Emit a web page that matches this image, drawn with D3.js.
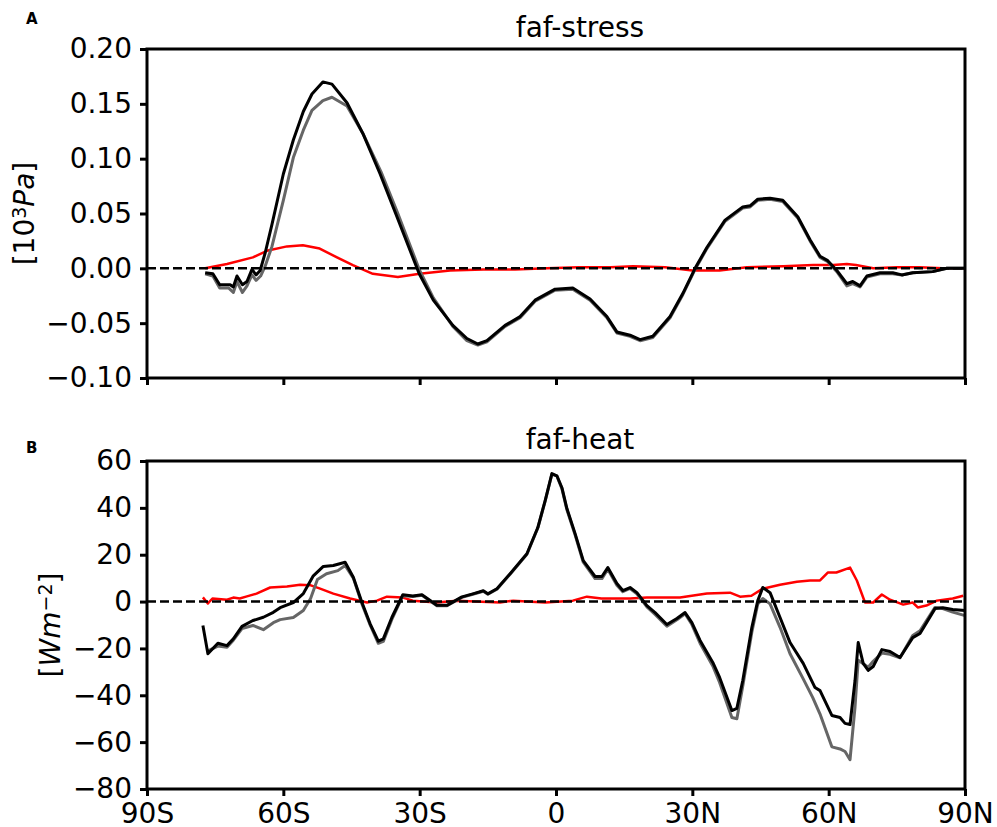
<!DOCTYPE html>
<html>
<head>
<meta charset="utf-8">
<script src="https://cdn.jsdelivr.net/npm/d3@7"></script>
<style>
  body { margin: 0; background: #fff; }
  svg { font-family: "DejaVu Sans", sans-serif; }
</style>
</head>
<body>
<svg id="chart" width="997" height="827"></svg>
<script>
var latTicks = [-90, -60, -30, 0, 30, 60, 90];
var latLabels = ["90S", "60S", "30S", "0", "30N", "60N", "90N"];
var stressTicks = [-0.10, -0.05, 0.00, 0.05, 0.10, 0.15, 0.20];
var heatTicks = [-80, -60, -40, -20, 0, 20, 40, 60];

// faf-stress
var stressBlackLat = [-77.2,-75.5,-74,-71.7,-71,-70.2,-69,-68,-66.9,-66,-65.1,-64,-62.5,-60,-57.8,-55.6,-53.7,-51.3,-49.3,-46,-42.5,-38.7,-35,-30.1,-27,-22.7,-19.6,-17.2,-15.2,-11.2,-7.9,-4.6,-0.2,3.7,7.5,11.2,13.4,16.3,18.5,21.3,25.1,27.9,30.6,33.2,37.2,41.1,42.7,44.4,47.1,49.9,53.2,55.9,58.1,59.8,61.8,64,65.3,66.9,68.4,71.3,74.1,76.1,78.5,82.9,86,90];
var stressBlack = [-0.004,-0.005,-0.015,-0.015,-0.017,-0.007,-0.015,-0.012,-0.001,-0.006,-0.002,0.014,0.040,0.086,0.117,0.143,0.159,0.170,0.168,0.151,0.123,0.086,0.047,-0.005,-0.029,-0.052,-0.064,-0.069,-0.066,-0.052,-0.044,-0.029,-0.019,-0.018,-0.028,-0.044,-0.058,-0.061,-0.065,-0.062,-0.044,-0.023,0.000,0.019,0.044,0.056,0.057,0.063,0.064,0.062,0.047,0.026,0.011,0.007,-0.002,-0.014,-0.012,-0.016,-0.007,-0.004,-0.004,-0.006,-0.004,-0.003,0,0];
var stressGreyLat = [-77.2,-75.5,-74,-72,-71,-70.2,-69,-68,-66.9,-66,-65,-64,-62.5,-60,-57.8,-55.6,-53.7,-51.3,-49.3,-46,-42.5,-38.5,-34.8,-30,-27,-22.7,-19.6,-17.2,-15.2,-11.2,-7.9,-4.6,-0.2,3.7,7.5,11.2,13.4,16.3,18.5,21.3,25.1,27.9,30.6,33.2,37.2,41.1,42.7,44.4,47.1,49.9,53.2,55.9,58.1,59.8,61.8,64,65.3,66.9,68.4,71.3,74.1,76.1,78.5,82.9,86,90];
var stressGrey = [-0.005,-0.007,-0.018,-0.018,-0.022,-0.012,-0.022,-0.016,-0.006,-0.011,-0.007,0.002,0.020,0.062,0.101,0.126,0.144,0.153,0.156,0.148,0.123,0.088,0.050,-0.002,-0.027,-0.053,-0.066,-0.070,-0.067,-0.053,-0.045,-0.030,-0.020,-0.019,-0.029,-0.045,-0.059,-0.062,-0.066,-0.063,-0.045,-0.024,-0.001,0.018,0.043,0.055,0.056,0.062,0.063,0.061,0.046,0.025,0.010,0.006,-0.003,-0.016,-0.014,-0.017,-0.008,-0.005,-0.005,-0.006,-0.004,-0.003,0,0];
var stressRedLat = [-77.2,-72.4,-66.7,-63.6,-59.2,-55.7,-52,-48.2,-44.7,-40.3,-34.8,-30,-23.3,-16,-9,-2,5,12,17,24,30,36,42,50,56.6,61,64,66,69.8,75,80,85,90];
var stressRed = [0,0.004,0.010,0.016,0.020,0.021,0.018,0.010,0.003,-0.005,-0.008,-0.005,-0.002,-0.001,-0.001,0.000,0.001,0.001,0.002,0.001,-0.002,-0.002,0.001,0.002,0.003,0.003,0.004,0.003,0,0.001,0.001,0,0];

// faf-heat
var heatBlackLat = [-77.7,-76.6,-74.4,-72.4,-71,-69.1,-66.7,-64.4,-62.2,-60.7,-57.8,-55.6,-53.4,-51.2,-49,-46.4,-44.6,-42.7,-40.9,-39.1,-38,-36.1,-33.7,-31.5,-29.5,-26.2,-24,-20.7,-18.3,-16,-15,-13,-10.1,-6.4,-4,-2.4,-0.9,0.2,1.3,2.4,4.2,6,8.6,10.1,11.4,13.4,14.7,16.3,17.8,20,21.8,24.4,26.6,28.4,29.9,31.7,34.5,36,38.7,39.8,41.1,43.1,44.4,45.5,47.1,49.3,51.5,54.4,57,58.1,60.7,62.5,63.6,64.7,65.8,66.5,67.6,68.7,69.8,71.7,73.5,75.7,78.5,80.1,83.4,85.1,87.3,90];
var heatBlack = [-10.2,-22.3,-17.8,-18.8,-15.9,-10.6,-8.1,-6.7,-4.6,-2.6,-0.4,3.4,11,15,15.4,16.8,10.4,-0.4,-9.5,-16.9,-15.9,-6.7,2.9,2.4,2.9,-1.6,-1.6,2.0,3.3,4.6,3.3,5.5,11.9,20.4,31.6,43,54.6,53.7,48.6,39.7,29,17.5,10.7,10.7,14.5,7.7,4.7,6.0,3.8,-1.7,-4.7,-9.8,-7.2,-4.7,-9,-16.6,-26,-32.4,-46.5,-45.6,-33.7,-11,0.4,6.0,3.8,-6.8,-17.5,-26.4,-36.7,-38,-48.6,-49.5,-52,-52.5,-33.7,-17.5,-26.4,-29.4,-27.7,-20.5,-21.3,-23.9,-15.4,-13.6,-3,-2.6,-3.4,-3.8];
var heatGreyLat = [-76.6,-74.4,-72.4,-71,-69.1,-66.7,-64.4,-62.2,-60.7,-57.8,-55.6,-54,-52.5,-50.5,-48,-46.4,-44.6,-42.7,-40.9,-39.1,-38,-36.1,-33.7,-31.5,-29.5,-26.2,-24,-20.7,-18.3,-16,-15,-13,-10.1,-6.4,-4,-2.4,-0.9,0.2,1.3,2.4,4.2,6,8.6,10.1,11.4,13.4,14.7,16.3,17.8,20,21.8,24.4,26.6,28.4,29.9,31.7,34.5,36,38.7,39.8,41.1,43.1,44.4,45.5,47.1,49.3,51.5,54.4,56.5,58.1,60.7,62.5,63.6,64.7,65.8,66.5,67.6,68.7,69.8,71.7,73.5,75.7,78.5,80.1,83.4,85.1,87.3,90];
var heatGrey = [-21,-19,-19.5,-16.5,-11.5,-10.2,-12,-9,-7.7,-6.8,-3.8,1.3,9.4,11.9,13.2,15.4,10,-1,-10,-17.8,-17,-7.5,2.5,2.2,2.7,-1.8,-1.8,1.8,3.1,4.4,3.1,5.3,11.7,20.2,31.4,42.8,54.4,53.5,48.2,39.2,28.5,16.8,9.8,9.8,13.8,7,4.2,5.6,3.3,-2.3,-5.5,-10.5,-7.8,-5.2,-9.8,-17.8,-27.5,-34.5,-49.5,-50,-36,-13,-1,1.3,-1,-11,-22.3,-33,-41,-48,-62,-62.9,-64,-67.5,-45,-25,-26.5,-28,-25.5,-22,-22.5,-24,-14.5,-12.5,-2.5,-3,-4.5,-6];
var heatRedLat = [-77.7,-76.6,-75.6,-72.4,-71,-69.6,-68.2,-65.9,-62.9,-59.2,-56.3,-54.1,-51.9,-49,-45.3,-41.6,-39.4,-37.2,-33.7,-31.5,-26.3,-21.8,-12.3,-9.4,-2.4,3.7,6.8,10,16.3,20,27.3,33.2,38.3,40.5,43,45.5,49.3,53,55.9,58.1,59.8,61.7,64.7,66.2,68,69.8,71.7,73.5,76.4,78.5,79.6,81.5,83.8,87.3,89.6];
var heatRed = [1.8,-0.8,1.3,0.8,1.7,1.3,2.1,3.4,6,6.4,7.2,7.0,5.5,3.4,1.3,-0.4,0.4,2.1,1.7,0.4,-0.4,0.4,-0.4,0.4,-0.4,0.4,2.1,1.3,1.3,1.7,1.7,3.4,3.8,2.1,2.5,5.5,7.2,8.5,9,9,12.4,12.4,14.5,9,-0.4,-0.4,3,0.8,-1.3,-0.4,-2.5,-1.7,0.4,1.3,2.5];

var svg = d3.select("#chart");
var left = 147, right = 965;
var x = d3.scaleLinear().domain([-90, 90]).range([left, right]);

function zip(lat, val) {
  return lat.map(function(d, i) { return [d, val[i]]; });
}

function drawPanel(p) {
  var y = d3.scaleLinear().domain(p.domain).range([p.bottom, p.top]);
  var g = svg.append("g");
  var line = d3.line()
    .x(function(d) { return x(d[0]); })
    .y(function(d) { return y(d[1]); });

  var series = [
    { data: zip(p.redLat, p.red), color: "#ff0000", width: 2.5 },
    { data: zip(p.greyLat, p.grey), color: "#666666", width: 3 },
    { data: zip(p.blackLat, p.black), color: "#000000", width: 3 }
  ];
  g.selectAll("path.series")
    .data(series)
    .enter()
    .append("path")
    .attr("class", "series")
    .attr("d", function(d) { return line(d.data); })
    .attr("fill", "none")
    .attr("stroke", function(d) { return d.color; })
    .attr("stroke-width", function(d) { return d.width; })
    .attr("stroke-linejoin", "round");

  g.append("line")
    .attr("x1", left).attr("x2", right)
    .attr("y1", y(0)).attr("y2", y(0))
    .attr("stroke", "#000")
    .attr("stroke-width", 2.5)
    .attr("stroke-dasharray", "9,4");

  var yAxis = g.append("g")
    .attr("transform", "translate(" + left + ",0)")
    .call(d3.axisLeft(y).tickValues(p.ticks).tickFormat(p.format).tickSize(7).tickSizeOuter(0).tickPadding(8));
  var xAxis = g.append("g")
    .attr("transform", "translate(0," + p.bottom + ")")
    .call(d3.axisBottom(x).tickValues(latTicks)
      .tickFormat(function(d, i) { return p.xlabels ? latLabels[i] : ""; })
      .tickSize(7).tickSizeOuter(0).tickPadding(7));
  [yAxis, xAxis].forEach(function(a) {
    a.select(".domain").remove();
    a.selectAll(".tick line").attr("stroke", "#000").attr("stroke-width", 3);
    a.selectAll(".tick text")
      .attr("fill", "#000")
      .style("font-family", "DejaVu Sans")
      .style("font-size", "28px");
  });

  g.append("rect")
    .attr("x", left).attr("y", p.top)
    .attr("width", right - left).attr("height", p.bottom - p.top)
    .attr("fill", "none")
    .attr("stroke", "#000")
    .attr("stroke-width", 3);

  g.append("text")
    .text(p.title)
    .attr("x", 580).attr("y", p.titleY)
    .attr("text-anchor", "middle")
    .style("font-size", "28px");

  g.append("text")
    .text(p.letter)
    .attr("x", 26).attr("y", p.letterY)
    .style("font-size", "15px")
    .style("font-weight", "bold");

  var lab = g.append("text")
    .attr("transform", "translate(" + p.labelX + "," + ((p.top + p.bottom) / 2) + ") rotate(-90)")
    .attr("text-anchor", "middle")
    .style("font-size", "28px");
  p.label.forEach(function(s) {
    var t = lab.append("tspan").text(s.t);
    if (s.italic) t.style("font-style", "italic");
    if (s.sup) t.attr("dy", "-0.42em").style("font-size", "19px");
    if (s.down) t.attr("dy", "0.29em");
  });
}

drawPanel({
  top: 49, bottom: 378, domain: [-0.10, 0.20], ticks: stressTicks, format: d3.format(".2f"),
  blackLat: stressBlackLat, black: stressBlack, greyLat: stressGreyLat, grey: stressGrey,
  redLat: stressRedLat, red: stressRed, xlabels: false,
  title: "faf-stress", titleY: 37, letter: "A", letterY: 24, labelX: 34,
  label: [{ t: "[10" }, { t: "3", sup: true }, { t: "Pa", italic: true, down: true }, { t: "]" }]
});

drawPanel({
  top: 461, bottom: 789, domain: [-80, 60], ticks: heatTicks, format: d3.format("d"),
  blackLat: heatBlackLat, black: heatBlack, greyLat: heatGreyLat, grey: heatGrey,
  redLat: heatRedLat, red: heatRed, xlabels: true,
  title: "faf-heat", titleY: 449, letter: "B", letterY: 453, labelX: 60,
  label: [{ t: "[" }, { t: "Wm", italic: true }, { t: "\u22122", sup: true }, { t: "]", down: true }]
});
</script>
</body>
</html>
